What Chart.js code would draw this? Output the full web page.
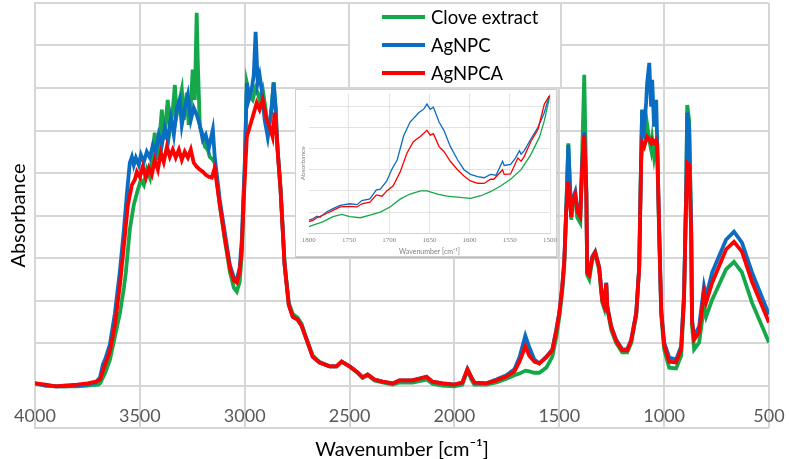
<!DOCTYPE html>
<html>
<head>
<meta charset="utf-8">
<script src="https://cdn.jsdelivr.net/npm/chart.js@4.4.1/dist/chart.umd.min.js"></script>
<style>
  html, body { margin: 0; padding: 0; background: #ffffff; }
  #wrap { position: relative; width: 789px; height: 459px; overflow: hidden; }
  #main { position: absolute; left: 0; top: 0; }
  #insetBox { position: absolute; left: 295px; top: 89px; width: 262px; height: 168px;
              background: #ffffff; border: 1px solid #cfcfcf; box-sizing: border-box;
              box-shadow: 1px 1px 1px rgba(0,0,0,0.12); }
  #inset { position: absolute; left: -1px; top: -1px; }
</style>
</head>
<body>
<div id="wrap">
  <canvas id="main" width="789" height="459"></canvas>
  <div id="insetBox"><canvas id="inset" width="262" height="168"></canvas></div>
</div>
<script>
// ---------------- data ----------------
const seriesNames = ['Clove extract', 'AgNPC', 'AgNPCA'];
const xTickValues = [4000, 3500, 3000, 2500, 2000, 1500, 1000, 500];
const insetTickValues = [1800, 1750, 1700, 1650, 1600, 1550, 1500];

// [wavenumber, absorbance]
const cloveExtract = [
[4000,0.05],[3950,0.0],[3900,-0.02],[3850,-0.02],[3800,-0.02],[3750,0.0],[3700,0.02],[3690,0.05],[3665,0.3],[3643,0.6],[3619,1.15],[3595,1.7],[3576,2.3],[3567,2.65],[3548,3.67],[3529,4.25],[3510,4.6],[3495,4.84],[3481,4.72],[3467,5.08],[3452,4.89],[3438,5.55],[3429,5.95],[3419,5.31],[3405,5.9],[3395,6.49],[3386,5.78],[3376,6.25],[3367,6.72],[3357,6.02],[3343,6.49],[3333,7.07],[3324,6.37],[3310,6.72],[3300,6.96],[3290,6.25],[3276,6.89],[3267,6.13],[3257,6.6],[3248,7.43],[3238,6.72],[3229,8.77],[3224,7.66],[3214,6.09],[3200,5.9],[3190,5.62],[3176,5.55],[3167,5.38],[3152,5.31],[3143,5.24],[3119,4.25],[3095,3.43],[3071,2.68],[3052,2.3],[3038,2.21],[3024,2.44],[3014,3.08],[3005,4.37],[3000,5.1],[2990,7.12],[2976,6.8],[2962,6.72],[2948,7.0],[2938,6.89],[2929,6.72],[2914,6.96],[2900,6.49],[2890,5.95],[2876,6.32],[2862,7.14],[2852,6.49],[2848,6.0],[2843,5.55],[2829,4.65],[2810,2.9],[2790,1.95],[2771,1.68],[2748,1.6],[2729,1.45],[2705,1.1],[2676,0.7],[2643,0.55],[2595,0.45],[2562,0.45],[2538,0.56],[2500,0.45],[2462,0.3],[2438,0.18],[2414,0.24],[2381,0.12],[2343,0.07],[2295,0.02],[2262,0.07],[2200,0.07],[2133,0.14],[2105,0.04],[2057,0.0],[2000,-0.02],[1962,0.02],[1938,0.36],[1919,0.14],[1905,0.02],[1848,0.02],[1800,0.07],[1752,0.16],[1714,0.24],[1690,0.28],[1662,0.35],[1643,0.33],[1619,0.3],[1595,0.3],[1562,0.42],[1533,0.68],[1514,1.15],[1500,1.6],[1486,2.2],[1476,2.85],[1467,4.1],[1457,5.7],[1443,3.9],[1438,4.25],[1424,4.37],[1414,3.95],[1400,3.83],[1390,5.6],[1381,7.31],[1371,4.6],[1367,2.6],[1357,2.5],[1343,2.95],[1329,3.1],[1310,2.72],[1295,1.95],[1286,1.82],[1276,2.35],[1271,1.8],[1252,1.3],[1229,1.0],[1200,0.78],[1176,0.78],[1157,1.0],[1133,1.65],[1119,2.75],[1110,5.3],[1105,6.49],[1095,6.02],[1086,5.9],[1081,6.13],[1071,5.78],[1062,5.55],[1057,5.78],[1048,5.38],[1038,5.7],[1033,5.45],[1024,3.6],[1014,1.65],[1000,0.85],[976,0.42],[943,0.4],[919,0.7],[905,2.0],[895,4.6],[890,6.6],[881,6.25],[871,3.6],[867,1.4],[857,0.85],[833,1.01],[810,1.86],[800,1.62],[771,2.02],[705,2.73],[667,2.91],[629,2.66],[581,1.95],[500,1.01]
];
const agnpc = [
[4000,0.05],[3950,0.0],[3900,-0.02],[3850,-0.02],[3800,0.0],[3750,0.02],[3710,0.07],[3690,0.19],[3676,0.5],[3665,0.62],[3643,0.96],[3619,1.7],[3595,2.7],[3576,3.67],[3562,4.5],[3548,5.24],[3538,5.38],[3529,5.19],[3519,5.36],[3505,5.19],[3495,5.43],[3481,5.26],[3467,5.5],[3452,5.36],[3438,5.66],[3424,5.5],[3410,5.9],[3395,5.66],[3381,6.06],[3367,5.78],[3352,6.3],[3338,5.9],[3324,6.53],[3310,6.72],[3300,6.13],[3286,6.53],[3271,6.84],[3257,6.25],[3243,6.53],[3229,6.37],[3214,6.13],[3200,5.78],[3186,5.9],[3171,5.59],[3152,6.02],[3143,5.38],[3119,4.37],[3095,3.6],[3071,2.84],[3052,2.54],[3038,2.49],[3024,2.77],[3014,3.43],[3005,4.6],[3000,5.15],[2990,7.12],[2981,6.72],[2967,6.96],[2957,7.3],[2948,8.32],[2938,7.12],[2929,7.3],[2919,6.96],[2905,6.25],[2890,5.85],[2871,6.56],[2862,7.12],[2852,6.49],[2848,6.0],[2843,5.55],[2829,4.6],[2810,2.84],[2790,1.9],[2771,1.62],[2748,1.55],[2729,1.41],[2705,1.08],[2676,0.68],[2643,0.54],[2595,0.45],[2562,0.45],[2538,0.56],[2500,0.45],[2462,0.31],[2438,0.19],[2414,0.26],[2381,0.14],[2343,0.09],[2295,0.05],[2262,0.12],[2200,0.12],[2133,0.21],[2105,0.09],[2057,0.05],[2000,0.02],[1962,0.07],[1938,0.38],[1919,0.19],[1905,0.07],[1848,0.05],[1800,0.14],[1752,0.24],[1714,0.38],[1690,0.66],[1662,1.17],[1643,0.9],[1619,0.61],[1595,0.52],[1562,0.68],[1533,0.85],[1514,1.32],[1500,1.72],[1486,2.33],[1476,2.96],[1467,4.14],[1457,5.66],[1443,3.97],[1438,4.37],[1424,4.56],[1414,4.14],[1400,4.02],[1390,5.31],[1381,5.97],[1371,4.54],[1367,2.66],[1357,2.61],[1343,3.03],[1329,3.15],[1310,2.8],[1295,2.02],[1286,1.9],[1276,2.42],[1271,1.86],[1252,1.39],[1229,1.08],[1200,0.85],[1176,0.85],[1157,1.08],[1133,1.72],[1119,2.8],[1110,5.31],[1105,6.49],[1095,6.09],[1086,6.65],[1081,7.12],[1071,7.59],[1062,6.56],[1057,7.19],[1048,6.09],[1038,6.72],[1033,5.71],[1024,3.74],[1014,1.79],[1000,1.01],[976,0.66],[943,0.61],[919,0.92],[905,2.19],[895,4.54],[890,6.42],[881,6.09],[871,3.74],[867,1.55],[857,1.15],[833,1.39],[810,2.33],[800,2.09],[771,2.66],[705,3.43],[667,3.62],[629,3.36],[581,2.66],[500,1.67]
];
const agnpca = [
[4000,0.05],[3950,0.02],[3900,-0.02],[3850,0.0],[3800,0.02],[3750,0.05],[3710,0.09],[3690,0.14],[3671,0.42],[3643,0.8],[3619,1.43],[3595,2.37],[3576,3.3],[3557,4.25],[3538,4.72],[3524,4.84],[3514,5.03],[3500,4.91],[3486,5.15],[3471,4.89],[3457,5.12],[3443,4.96],[3429,5.31],[3414,5.08],[3400,5.48],[3386,5.26],[3371,5.62],[3357,5.38],[3343,5.55],[3329,5.36],[3314,5.55],[3300,5.31],[3286,5.5],[3271,5.36],[3257,5.55],[3243,5.24],[3229,5.15],[3214,5.08],[3200,5.03],[3186,4.96],[3171,4.91],[3157,4.89],[3143,5.12],[3119,4.25],[3095,3.48],[3071,2.77],[3052,2.47],[3038,2.42],[3024,2.68],[3014,3.24],[3005,4.37],[3000,4.84],[2990,5.85],[2976,6.09],[2962,6.32],[2943,6.65],[2929,6.49],[2914,6.72],[2895,6.25],[2881,6.09],[2867,5.85],[2857,6.42],[2848,5.95],[2843,5.5],[2829,4.6],[2810,2.84],[2790,1.9],[2771,1.62],[2748,1.55],[2729,1.41],[2705,1.08],[2676,0.68],[2643,0.54],[2595,0.45],[2562,0.45],[2538,0.56],[2500,0.45],[2462,0.31],[2438,0.19],[2414,0.26],[2381,0.14],[2343,0.09],[2295,0.05],[2262,0.12],[2200,0.12],[2133,0.2],[2105,0.09],[2057,0.05],[2000,0.02],[1962,0.07],[1938,0.38],[1919,0.19],[1905,0.07],[1848,0.05],[1800,0.12],[1752,0.21],[1714,0.33],[1690,0.56],[1662,0.92],[1643,0.7],[1619,0.56],[1595,0.52],[1562,0.66],[1533,0.83],[1514,1.3],[1500,1.7],[1486,2.3],[1476,2.93],[1467,4.1],[1457,4.79],[1443,3.97],[1438,4.3],[1424,4.49],[1414,4.1],[1400,3.97],[1390,5.2],[1381,5.9],[1371,4.5],[1367,2.66],[1357,2.6],[1343,3.0],[1329,3.13],[1310,2.78],[1295,2.0],[1286,1.88],[1276,2.4],[1271,1.84],[1252,1.37],[1229,1.05],[1200,0.83],[1176,0.83],[1157,1.06],[1133,1.7],[1119,2.78],[1110,5.2],[1105,5.71],[1095,5.62],[1086,5.78],[1081,5.85],[1071,5.78],[1062,5.71],[1057,5.78],[1048,5.71],[1038,5.78],[1033,5.66],[1024,3.7],[1014,1.75],[1000,0.95],[976,0.56],[943,0.54],[919,0.85],[905,2.1],[895,4.4],[890,5.24],[881,5.2],[871,3.6],[867,1.5],[857,1.08],[833,1.25],[810,2.19],[800,1.95],[771,2.42],[705,3.2],[667,3.38],[629,3.15],[581,2.44],[500,1.48]
];

// inset (1800-1500 cm-1), arbitrary absorbance units
const insetClove = [
[1800,0.31],[1782,0.55],[1770,0.78],[1759,0.89],[1749,0.78],[1736,0.73],[1724,0.85],[1711,1.0],[1699,1.24],[1686,1.62],[1674,1.85],[1661,2.0],[1653,2.0],[1640,1.85],[1628,1.75],[1615,1.7],[1599,1.65],[1586,1.77],[1574,1.96],[1561,2.24],[1549,2.55],[1536,3.0],[1524,3.7],[1513,4.55],[1507,5.32],[1500,6.55]
];
const insetAgnpc = [
[1800,0.62],[1795,0.68],[1790,0.8],[1786,0.75],[1778,1.0],[1770,1.16],[1761,1.31],[1749,1.39],[1740,1.35],[1734,1.54],[1724,1.62],[1716,2.05],[1711,2.08],[1703,2.47],[1697,3.0],[1690,3.47],[1682,4.6],[1674,5.25],[1663,5.7],[1657,5.86],[1653,6.1],[1649,5.85],[1645,5.95],[1638,5.25],[1632,4.86],[1624,4.1],[1615,3.47],[1607,3.0],[1599,2.78],[1590,2.67],[1582,2.62],[1574,2.78],[1567,2.74],[1559,3.4],[1557,3.2],[1549,3.25],[1543,3.55],[1538,3.9],[1536,3.73],[1532,3.9],[1524,4.44],[1515,5.0],[1507,5.7],[1501,6.48]
];
const insetAgnpca = [
[1800,0.55],[1795,0.6],[1790,0.73],[1778,0.93],[1770,1.08],[1761,1.24],[1749,1.27],[1740,1.24],[1734,1.39],[1724,1.47],[1716,1.81],[1709,1.75],[1703,2.0],[1695,2.24],[1686,2.93],[1678,3.78],[1670,4.32],[1661,4.58],[1653,4.86],[1649,4.63],[1645,4.7],[1638,4.09],[1632,3.86],[1624,3.4],[1615,3.0],[1607,2.7],[1599,2.47],[1590,2.36],[1582,2.35],[1574,2.55],[1570,2.55],[1559,3.0],[1557,2.78],[1549,2.8],[1540,3.55],[1536,3.4],[1532,3.63],[1524,4.32],[1515,4.9],[1507,6.1],[1501,6.48]
];

// ---------------- styles ----------------
const COLORS = ['#14a84a', '#0a6dc2', '#ff0000'];
const FONT = 'Lato, "Open Sans", "DejaVu Sans", sans-serif';
const GRID = '#d6d6d6';
const toXY = arr => arr.map(p => ({ x: p[0], y: p[1] }));
const noEdgePadding = s => { s.paddingLeft = 0; s.paddingRight = 0; };

const legendBox = {
  id: 'legendBox',
  afterDraw(chart) {
    const ctx = chart.ctx;
    ctx.save();
    ctx.fillStyle = '#ffffff';
    ctx.fillRect(349, 3, 212, 85);
    ctx.strokeStyle = GRID;
    ctx.lineWidth = 2;
    ctx.strokeRect(349, 3, 212, 85);
    ctx.font = '18.5px ' + FONT;
    ctx.textBaseline = 'middle';
    ctx.textAlign = 'left';
    const ys = [17, 45, 73];
    chart.data.datasets.forEach((ds, i) => {
      ctx.strokeStyle = ds.borderColor;
      ctx.lineWidth = 4;
      ctx.beginPath();
      ctx.moveTo(382, ys[i]);
      ctx.lineTo(425, ys[i]);
      ctx.stroke();
      ctx.fillStyle = '#000000';
      ctx.fillText(ds.label, 431, ys[i] + 1);
    });
    ctx.restore();
  }
};

const mainSeries = [cloveExtract, agnpc, agnpca];
new Chart(document.getElementById('main'), {
  type: 'line',
  data: {
    datasets: mainSeries.map((s, i) => ({
      label: seriesNames[i],
      data: toXY(s),
      borderColor: COLORS[i],
      backgroundColor: COLORS[i],
      borderWidth: 3.8,
      pointRadius: 0,
      tension: 0,
      order: 3 - i
    }))
  },
  options: {
    responsive: false,
    animation: false,
    layout: { padding: { left: 3, right: 20, top: 3, bottom: 31 } },
    plugins: { legend: { display: false }, tooltip: { enabled: false } },
    scales: {
      x: {
        type: 'linear', reverse: true, min: 500, max: 4000,
        position: { y: 0 },
        afterBuildTicks: s => { s.ticks = xTickValues.map(v => ({ value: v })); },
        afterFit: noEdgePadding,
        ticks: { color: '#595959', font: { family: FONT, size: 18 }, padding: 20,
                 callback: v => String(v), maxRotation: 0, autoSkip: false },
        grid: { color: GRID, lineWidth: 2, drawTicks: false },
        border: { color: GRID, width: 2 },
        title: { display: true, text: 'Wavenumber [cm⁻¹]', color: '#000000',
                 font: { family: FONT, size: 20 }, padding: { top: -10, bottom: 0 } }
      },
      y: {
        min: -1, max: 9,
        ticks: { display: false, stepSize: 1 },
        grid: { color: GRID, lineWidth: 2, drawTicks: false },
        border: { color: GRID, width: 2 },
        title: { display: true, text: 'Absorbance', color: '#000000',
                 font: { family: FONT, size: 20 }, padding: { top: 4, bottom: 4 } }
      }
    }
  },
  plugins: [legendBox]
});

const insetSeries = [insetClove, insetAgnpc, insetAgnpca];
new Chart(document.getElementById('inset'), {
  type: 'line',
  data: {
    datasets: insetSeries.map((s, i) => ({
      label: seriesNames[i],
      data: toXY(s),
      borderColor: COLORS[i],
      borderWidth: 1.3,
      pointRadius: 0,
      tension: 0,
      order: 3 - i
    }))
  },
  options: {
    responsive: false,
    animation: false,
    layout: { padding: { left: 2, right: 7, top: 4.5, bottom: 1 } },
    plugins: { legend: { display: false }, tooltip: { enabled: false } },
    scales: {
      x: {
        type: 'linear', reverse: true, min: 1500, max: 1800,
        afterBuildTicks: s => { s.ticks = insetTickValues.map(v => ({ value: v })); },
        afterFit: noEdgePadding,
        ticks: { color: '#7f7f7f', font: { family: '"Liberation Serif", serif', size: 7 }, padding: 3,
                 callback: v => String(v), maxRotation: 0, autoSkip: false },
        grid: { color: c => (c.tick && c.tick.value === 1800) ? 'rgba(0,0,0,0)' : '#dcdcdc',
                lineWidth: 0.8, drawTicks: false },
        border: { color: '#d0d0d0', width: 0.8 },
        title: { display: true, text: 'Wavenumber [cm⁻¹]', color: '#7f7f7f',
                 font: { family: FONT, size: 7 }, padding: { top: 0, bottom: 0 } }
      },
      y: {
        min: 0, max: 6.6,
        afterBuildTicks: s => { s.ticks = [0,1,2,3,4,5,6].map(v => ({ value: v })); },
        ticks: { display: false },
        grid: { color: '#dcdcdc', lineWidth: 0.8, drawTicks: false },
        border: { display: false },
        title: { display: true, text: 'Absorbance', color: '#7f7f7f',
                 font: { family: FONT, size: 6.5 }, padding: { top: 2, bottom: 2 } }
      }
    }
  }
});
</script>
</body>
</html>
